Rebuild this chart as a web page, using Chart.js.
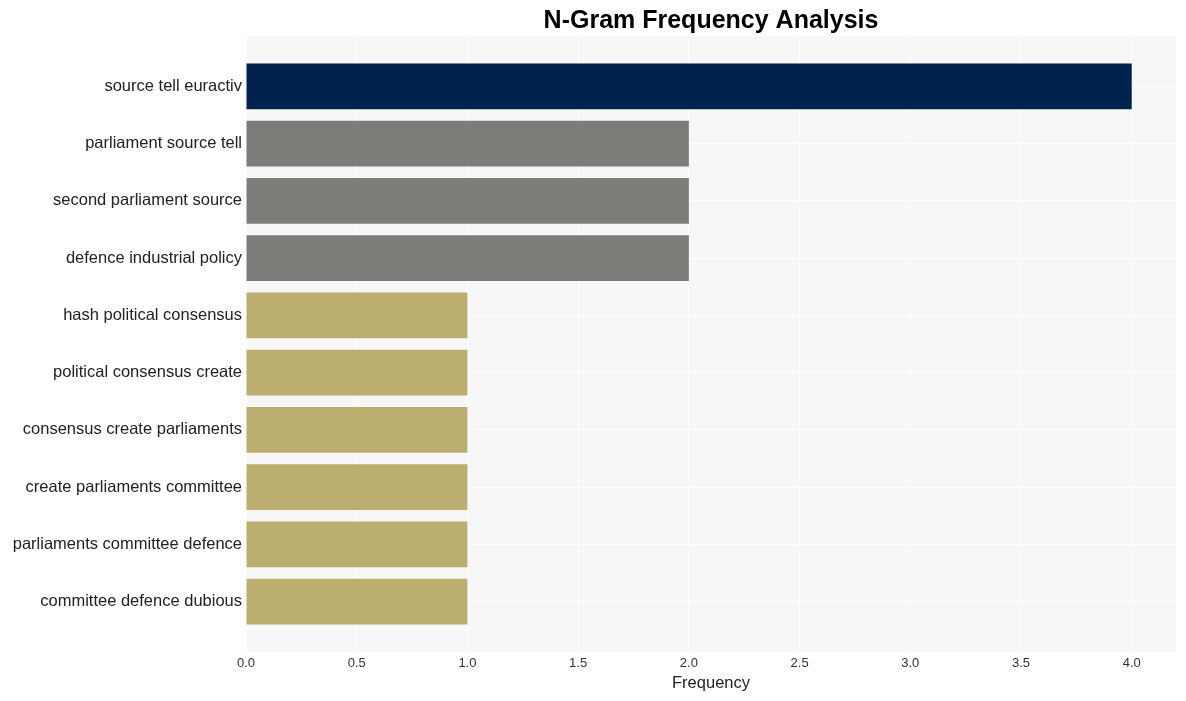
<!DOCTYPE html>
<html>
<head>
<meta charset="utf-8">
<script src="https://cdn.jsdelivr.net/npm/chart.js@4/dist/chart.umd.min.js"></script>
<style>
  html, body { margin: 0; padding: 0; background: #fff; }
  #wrap { width: 1186px; height: 701px; }
</style>
</head>
<body>
<div id="wrap"><canvas id="chart"></canvas></div>
<script>
const ngrams = [
  "source tell euractiv",
  "parliament source tell",
  "second parliament source",
  "defence industrial policy",
  "hash political consensus",
  "political consensus create",
  "consensus create parliaments",
  "create parliaments committee",
  "parliaments committee defence",
  "committee defence dubious",
];
const frequency = [4, 2, 2, 2, 1, 1, 1, 1, 1, 1];
const barColors = [
  "#00224e", "#7d7c78", "#7d7c78", "#7d7c78",
  "#bbae6e", "#bbae6e", "#bbae6e", "#bbae6e", "#bbae6e", "#bbae6e",
];
const xTicks = [0, 0.5, 1, 1.5, 2, 2.5, 3, 3.5, 4];

const FONT = "'Liberation Sans', Arial, sans-serif";

// gray panel behind the plot + centred title
const panel = {
  id: "panel",
  beforeDraw(chart) {
    const { ctx, chartArea: a } = chart;
    ctx.save();
    ctx.fillStyle = "#f7f7f7";
    ctx.fillRect(a.left, a.top, a.right - a.left, a.bottom - a.top);
    ctx.restore();
  },
  afterDraw(chart) {
    const { ctx, chartArea: a } = chart;
    ctx.save();
    ctx.font = "bold 25px " + FONT;
    ctx.fillStyle = "#000";
    ctx.textAlign = "center";
    ctx.textBaseline = "middle";
    ctx.fillText("N-Gram Frequency Analysis", (a.left + a.right) / 2, 21);
    ctx.restore();
  },
};

new Chart(document.getElementById("chart"), {
  type: "bar",
  data: {
    datasets: [{
      data: frequency.map((v, i) => ({ x: v, y: i })),
      backgroundColor: barColors,
      borderWidth: 0,
      barPercentage: 0.8,
      categoryPercentage: 1,
    }],
  },
  options: {
    indexAxis: "y",
    responsive: true,
    maintainAspectRatio: false,
    animation: false,
    layout: { padding: { top: 36, right: 10, left: 0, bottom: 0 } },
    plugins: { legend: { display: false }, tooltip: { enabled: false } },
    scales: {
      x: {
        type: "linear",
        bounds: "data",
        min: 0,
        max: 4.2,
        afterBuildTicks: (s) => { s.ticks = xTicks.map((v) => ({ value: v })); },
        afterFit: (s) => { s.height = 49; },
        border: { display: false },
        grid: { color: "#ffffff", lineWidth: 1, drawTicks: false },
        ticks: {
          padding: 4,
          color: "#333",
          font: { family: FONT, size: 13 },
          callback: (v) => Number(v).toFixed(1),
        },
        title: {
          display: true,
          text: "Frequency",
          color: "#222",
          font: { family: FONT, size: 16.5 },
          padding: { top: 0, bottom: 8 },
        },
      },
      y: {
        type: "linear",
        bounds: "data",
        offset: false,
        reverse: true,
        min: -0.88,
        max: ngrams.length - 1 + 0.88,
        afterBuildTicks: (s) => { s.ticks = ngrams.map((_, i) => ({ value: i })); },
        afterFit: (s) => { s.width = 246; },
        border: { display: false },
        grid: { color: "#ffffff", lineWidth: 1, drawTicks: false, offset: false },
        ticks: {
          padding: 4,
          color: "#222",
          font: { family: FONT, size: 16.5 },
          callback: (v) => ngrams[v],
        },
      },
    },
  },
  plugins: [panel],
});
</script>
</body>
</html>
